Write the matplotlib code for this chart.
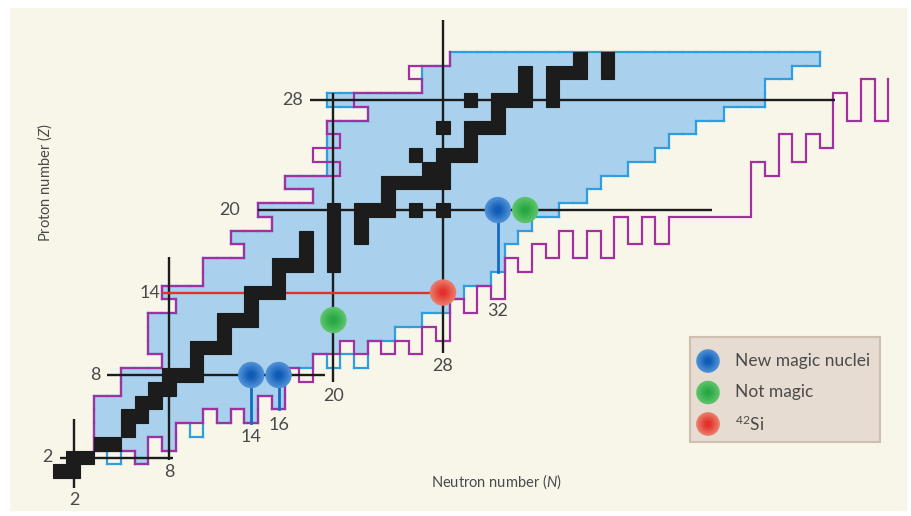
import matplotlib
matplotlib.use("Agg")
import matplotlib.pyplot as plt
from matplotlib.patches import Rectangle
from matplotlib.collections import LineCollection
import numpy as np

plt.rcParams['font.family'] = ['Lato', 'DejaVu Sans']
plt.rcParams['mathtext.fontset'] = 'custom'
plt.rcParams['mathtext.rm'] = 'Lato'
plt.rcParams['mathtext.it'] = 'Lato:italic'
plt.rcParams['mathtext.default'] = 'regular'

# ---- data: N = neutron number, Z = proton number ----
stable_Z = [1, 2, 3, 4, 5, 6, 7, 8, 9, 10, 11, 12, 13, 14, 15, 16,
            17, 18, 19, 20, 21, 22, 23, 24, 25, 26, 27, 28, 29, 30, 31]
stable_N = [[0, 1], [1, 2], [3, 4], [5], [5, 6], [6, 7], [7, 8], [8, 9, 10], [10],
            [10, 11, 12], [12], [12, 13, 14], [14], [14, 15, 16], [16], [16, 17, 18, 20],
            [18, 20], [18, 20, 22], [20, 22], [20, 22, 23, 24, 26, 28], [24],
            [24, 25, 26, 27, 28], [27, 28], [26, 28, 29, 30], [30], [28, 30, 31, 32],
            [32], [30, 32, 33, 34, 36], [34, 36], [34, 36, 37, 38, 40], [38, 40]]

# predicted drip lines: lightest N for each Z, lightest Z for each N
drip_p_Z = list(range(3, 32))
drip_p_minN = [3, 3, 3, 3, 5, 5, 8, 7, 7, 7, 9, 8, 11, 11, 14, 13, 16, 15,
               19, 17, 21, 19, 21, 20, 23, 22, 27, 26, 29]
drip_n_N = list(range(3, 61))
drip_n_minZ = [3, 3, 3, 2, 4, 3, 5, 5, 6, 5, 6, 5, 7, 6, 9, 8, 10, 10, 11, 10,
               11, 10, 11, 10, 12, 11, 14, 13, 15, 14, 17, 16, 18, 17, 19, 17, 19, 17,
               20, 18, 20, 18, 20, 20, 20, 20, 20, 20, 24, 23, 26, 24, 26, 25, 29, 27,
               30, 27]
drip_n_endZ = 29.5

# nuclei observed so far
known_Z = list(range(2, 32))
known_minN = [3, 3, 3, 3, 3, 5, 5, 8, 7, 7, 7, 9, 8, 11, 11, 14, 13, 16, 15,
              19, 17, 20, 20, 20, 20, 23, 20, 27, 27, 29]
known_N = list(range(3, 56))
known_minZ = [3, 2, 3, 2, 4, 3, 5, 4, 6, 5, 6, 5, 7, 6, 9, 9, 10, 9, 10, 9,
              11, 11, 12, 12, 13, 13, 14, 15, 15, 16, 18, 19, 20, 20, 21, 21, 22, 23,
              23, 24, 24, 25, 26, 26, 27, 27, 28, 28, 28, 30, 30, 31, 31]

new_magic_N = [14, 16, 32]
new_magic_Z = [8, 8, 20]
not_magic_N = [20, 34]
not_magic_Z = [12, 20]
si42_N = [28]
si42_Z = [14]

CREAM = '#f8f5e9'
BLUE_FILL = '#a9d0ec'
BLUE_EDGE = '#2e9ede'
PURPLE = '#a2309f'
INK = '#1c1c1c'
TXT = '#4a4a4a'

fig = plt.figure(figsize=(9.12, 5.16), dpi=100)
fig.patch.set_facecolor('white')
ax = fig.add_axes([0, 0, 1, 1])
ax.set_xlim(8 - 169 / 13.7, 8 + (912 - 169) / 13.7)
ax.set_ylim(8 - (516 - 375) / 13.75, 8 + 375 / 13.75)
ax.axis('off')
ax.add_patch(Rectangle((10 / 912, 6 / 516), 896 / 912, 502 / 516,
                       transform=ax.transAxes, color=CREAM, zorder=0))


def runs(cells, rows, **style):
    # merge horizontal neighbours of each row into one rectangle
    for z in rows:
        row = sorted(n for (n, zz) in cells if zz == z)
        i = 0
        while i < len(row):
            j = i
            while j + 1 < len(row) and row[j + 1] == row[j] + 1:
                j += 1
            ax.add_patch(Rectangle((row[i] - .5, z - .5), row[j] - row[i] + 1, 1,
                                   **style))
            i = j + 1


# ---- known region (blue) ----
kminN = dict(zip(known_Z, known_minN))
kminZ = dict(zip(known_N, known_minZ))
pminZ = dict(zip(drip_n_N, drip_n_minZ))
known = {(n, z) for z in known_Z for n in known_N
         if n >= kminN[z] and z >= kminZ[n]}
filled = {(n, z) for (n, z) in known if z >= pminZ.get(n, -99)}
runs(filled, known_Z, fc=BLUE_FILL, ec=BLUE_FILL, lw=0.6, zorder=1)

segs = []
for (n, z) in known:
    if (n - 1, z) not in known:
        segs.append([(n - .5, z - .5), (n - .5, z + .5)])
    if (n + 1, z) not in known:
        segs.append([(n + .5, z - .5), (n + .5, z + .5)])
    if (n, z - 1) not in known:
        segs.append([(n - .5, z - .5), (n + .5, z - .5)])
    if (n, z + 1) not in known:
        segs.append([(n - .5, z + .5), (n + .5, z + .5)])
ax.add_collection(LineCollection(segs, colors=BLUE_EDGE, linewidths=1.6,
                                 capstyle='projecting', zorder=2))

# ---- predicted drip line (purple) ----
px, py = [], []
for z, n in zip(drip_p_Z[::-1], drip_p_minN[::-1]):
    px += [n - .5, n - .5]
    py += [z + .5, z - .5]
for n, z in zip(drip_n_N, drip_n_minZ):
    px += [n - .5, n + .5]
    py += [z - .5, z - .5]
px.append(drip_n_N[-1] + .5)
py.append(drip_n_endZ)
ax.plot(px, py, color=PURPLE, lw=1.6, solid_joinstyle='miter', zorder=3)

# ---- magic number lines ----
lk = dict(color=INK, lw=1.7, zorder=4, solid_capstyle='butt')
ax.plot([0.05, 8.3], [2, 2], **lk)
ax.plot([1.07, 1.07], [-0.2, 4.8], **lk)
ax.plot([3.5, 19.4], [8, 8], **lk)
ax.plot([8, 8], [1.8, 16.6], **lk)
ax.plot([20, 20], [7.5, 28.5], **lk)
ax.plot([14.5, 47.6], [20, 20], **lk)
ax.plot([28, 28], [9.6, 33.8], **lk)
ax.plot([18.3, 56.6], [28, 28], **lk)
ax.plot([7.55, 28], [14, 14], color='#e4322b', lw=1.7, zorder=4)
for n, z, z0 in zip(new_magic_N, new_magic_Z, [4.5, 5.5, 15.5]):
    ax.plot([n, n], [z0, z], color='#1769c2', lw=2.0, zorder=4)

# ---- stable nuclei (black) ----
stable = {(n, z) for z, ns in zip(stable_Z, stable_N) for n in ns}
runs(stable, stable_Z, fc=INK, ec=INK, lw=0.8, zorder=5)

# ---- labels ----
tk = dict(fontsize=13, color=TXT, ha='center', va='center', zorder=6)
ax.text(-0.9, 2, '2', **tk)
ax.text(1.07, -1.1, '2', **tk)
ax.text(2.6, 8, '8', **tk)
ax.text(8, 0.95, '8', **tk)
ax.text(6.6, 14, '14', **tk)
ax.text(20, 6.5, '20', **tk)
ax.text(12.45, 20, '20', **tk)
ax.text(28, 8.65, '28', **tk)
ax.text(17.0, 28, '28', **tk)
ax.text(14, 3.5, '14', **tk)
ax.text(16, 4.4, '16', **tk)
ax.text(32, 12.65, '32', **tk)
ax.text(-1.05, 22.0, 'Proton number ($\\mathit{Z}$)', fontsize=10.5,
        color=TXT, rotation=90, ha='center', va='center')
ax.text(31.9, 0.22, 'Neutron number ($\\mathit{N}$)', fontsize=10.5, color=TXT,
        ha='center', va='center')


def glow(xs, ys, c_out, c_in, size, trans=None, z=7):
    kw = {} if trans is None else {'transform': trans}
    steps = 7
    for k in range(steps):
        f = k / (steps - 1)
        col = tuple((1 - f) * np.array(matplotlib.colors.to_rgb(c_out))
                    + f * np.array(matplotlib.colors.to_rgb(c_in)))
        ax.scatter(xs, ys, s=(size * (1 - 0.75 * f)) ** 2, color=col,
                   edgecolors='none', zorder=z + k * 0.01, **kw)


glow(new_magic_N, new_magic_Z, '#4d8fd6', '#0f5bb5', 19)
glow(not_magic_N, not_magic_Z, '#5cc36a', '#27a843', 19)
glow(si42_N, si42_Z, '#ea7a67', '#e3302a', 19)

# ---- legend ----
ax.add_patch(Rectangle((690 / 912, 1 - 442 / 516), 190 / 912, 105 / 516,
                       transform=ax.transAxes, fc='#e7dcd1', ec='#cfbfae', lw=1.5,
                       zorder=8))
legend_items = [('New magic nuclei', '#4d8fd6', '#0f5bb5'),
                ('Not magic', '#5cc36a', '#27a843'),
                ('$^{42}$Si', '#ea7a67', '#e3302a')]
for i, (lab, co, ci) in enumerate(legend_items):
    yy = 1 - (361 + 31.5 * i) / 516
    glow([708 / 912], [yy], co, ci, 17, trans=ax.transAxes, z=9)
    ax.text(735 / 912, yy, lab, transform=ax.transAxes, fontsize=12.5, color=TXT,
            ha='left', va='center', zorder=10)

fig.savefig('out.png', dpi=100, facecolor=fig.get_facecolor())
